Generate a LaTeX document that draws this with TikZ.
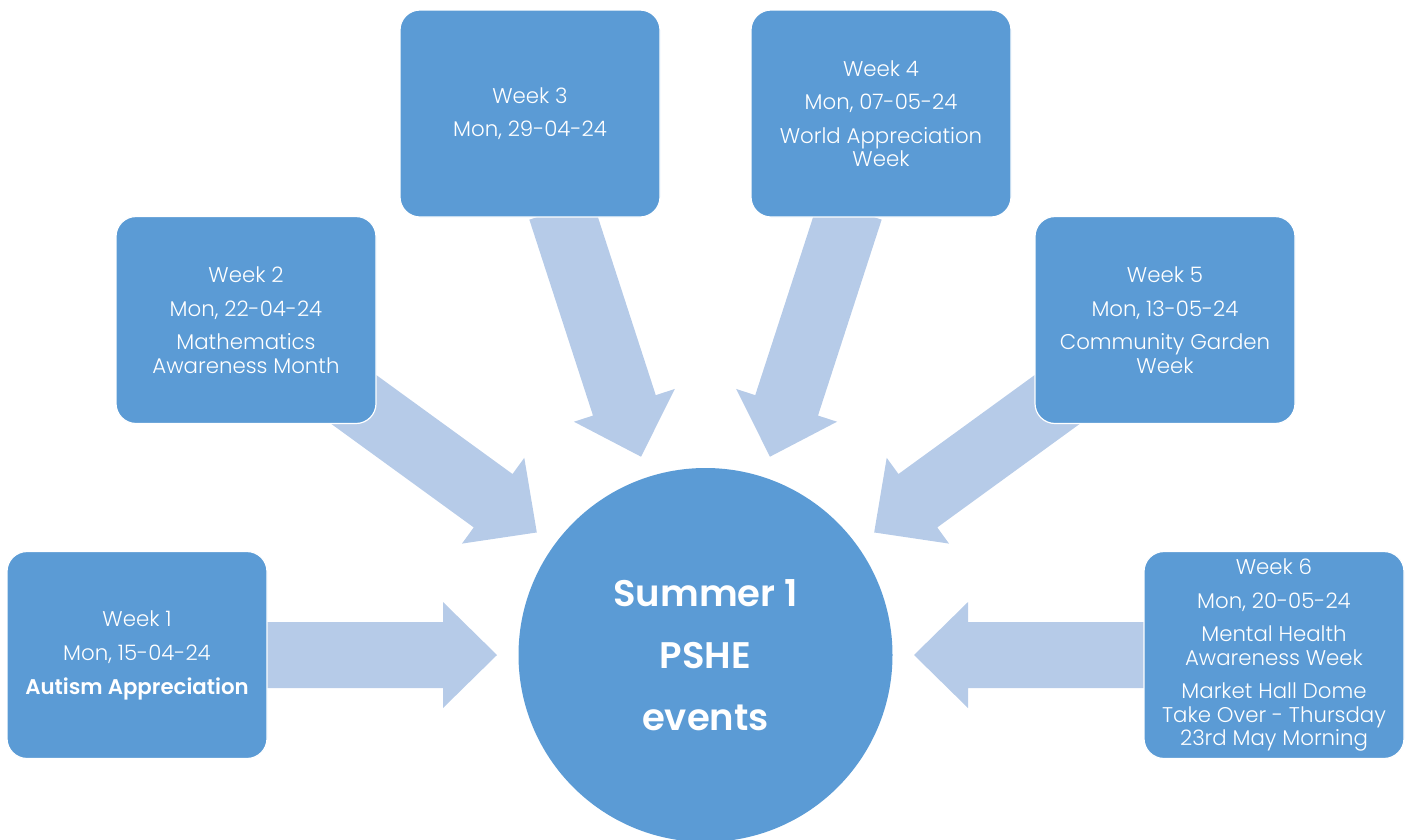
\documentclass[tikz,border=0pt]{standalone}
\usepackage{fontspec}
\setmainfont{Poppins}[UprightFont=* Light, BoldFont=* SemiBold]
\usetikzlibrary{calc}
\definecolor{boxblue}{HTML}{5B9BD5}
\definecolor{arrowblue}{HTML}{B6CBE8}
\begin{document}
\begin{tikzpicture}[x=1pt,y=-1pt,
  wk/.style={draw=white, line width=1.2pt, fill=boxblue, rounded corners=20pt,
    minimum width=260pt, minimum height=207pt, inner sep=0pt, align=center,
    text=white, font=\fontsize{21.3}{23.5}\selectfont},
  hub/.style={circle, fill=boxblue, minimum size=374pt, inner sep=0pt,
    align=center, text=white, font=\bfseries\fontsize{37}{62}\selectfont},
  arrowfill/.style={fill=arrowblue}]
\useasboundingbox (0,0) rectangle (1411,839);
\node[hub] (c) at (705.5,655) {Summer 1\\PSHE\\events};
\foreach \a [count=\i] in {180,216,252,288,324,360} {
  \coordinate (t\i) at ($(c.center)+(\a:208.5)$);
  \fill[arrowfill, shift={(t\i)}, rotate={180-\a}]
    (0,0) -- (-54,53) -- (-54,33) -- (-260,33) -- (-260,-33)
    -- (-54,-33) -- (-54,-53) -- cycle;
}
\node[wk] (b1) at (137,655) {Week 1\\[10.5pt]Mon, 15-04-24\\[10.5pt]\textbf{Autism Appreciation}};
\node[wk] (b2) at (246,320) {Week 2\\[10pt]Mon, 22-04-24\\[10pt]Mathematics\\Awareness Month};
\node[wk] (b3) at (530,113.5) {Week 3\\[10pt]Mon, 29-04-24};
\node[wk] (b4) at (881,113.5) {Week 4\\[10pt]Mon, 07-05-24\\[10pt]World Appreciation\\Week};
\node[wk] (b5) at (1165,320) {Week 5\\[10pt]Mon, 13-05-24\\[10pt]Community Garden\\Week};
\node[wk] (b6) at (1274,655) {Week 6\\[10pt]Mon, 20-05-24\\[10pt]Mental Health\\Awareness Week\\[10pt]Market Hall Dome\\Take Over - Thursday\\23rd May Morning};
\end{tikzpicture}
\end{document}
